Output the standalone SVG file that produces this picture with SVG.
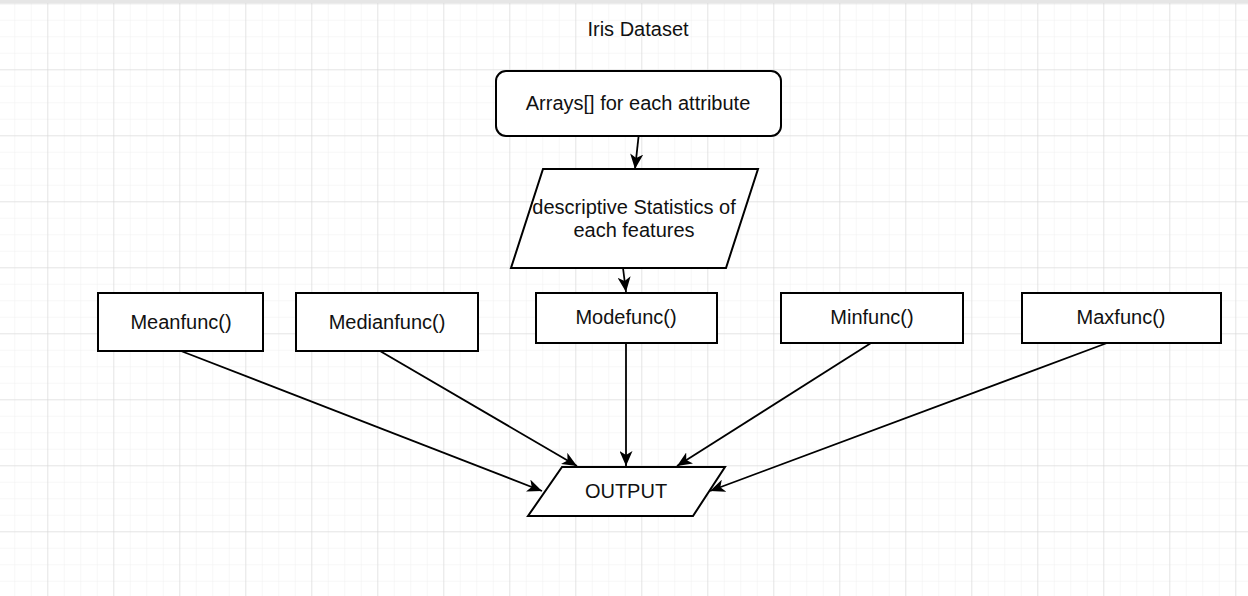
<svg xmlns="http://www.w3.org/2000/svg" width="1248" height="596" viewBox="0 0 1248 596">
<defs>
<pattern id="minor" x="-18.7" y="3.3" width="16.5" height="16.5" patternUnits="userSpaceOnUse">
<path d="M0,0 H16.5 M0,0 V16.5" fill="none" stroke="#efefef" stroke-width="1"/>
</pattern>
<pattern id="major" x="-18.7" y="3.3" width="66" height="66" patternUnits="userSpaceOnUse">
<path d="M0,0 H66 M0,0 V66" fill="none" stroke="#d4d4d4" stroke-width="1"/>
</pattern>
<marker id="arr" markerUnits="userSpaceOnUse" markerWidth="17" markerHeight="13" refX="15" refY="6.5" orient="auto">
<path d="M0,0 L15,6.5 L0,13 L4,6.5 z" fill="#000"/>
</marker>
<style>
.box{fill:#fff;stroke:#000;stroke-width:2}
.t{font-family:"Liberation Sans",Arial,sans-serif;font-size:20px;fill:#111;text-anchor:middle}
.c{fill:none;stroke:#000;stroke-width:1.8;marker-end:url(#arr)}
</style>
</defs>
<rect width="1248" height="596" fill="#fff"/>
<rect width="1248" height="596" fill="url(#minor)"/>
<rect width="1248" height="596" fill="url(#major)"/>
<rect x="0" y="0" width="1248" height="3" fill="#e6e6e6"/>
<g id="title"><text class="t" x="638" y="36">Iris Dataset</text></g>
<g id="arrays"><rect class="box" x="496" y="71" width="285" height="65" rx="10"/><text class="t" x="638" y="110">Arrays[] for each attribute</text></g>
<g id="stats"><polygon class="box" points="543,169 758,169 726,268 511,268"/><text class="t" x="634" y="214">descriptive Statistics of</text><text class="t" x="634" y="237">each features</text></g>
<g id="mean"><rect class="box" x="98" y="293" width="165" height="58"/><text class="t" x="181" y="329">Meanfunc()</text></g>
<g id="median"><rect class="box" x="296" y="293" width="182" height="58"/><text class="t" x="387" y="329">Medianfunc()</text></g>
<g id="mode"><rect class="box" x="536" y="293" width="181" height="50"/><text class="t" x="626" y="324">Modefunc()</text></g>
<g id="min"><rect class="box" x="781" y="293" width="182" height="50"/><text class="t" x="872" y="324">Minfunc()</text></g>
<g id="max"><rect class="box" x="1022" y="293" width="199" height="50"/><text class="t" x="1121" y="324">Maxfunc()</text></g>
<g id="output"><polygon class="box" points="562,467 725,467 693,516 528,516"/><text class="t" x="626" y="498">OUTPUT</text></g>
<g id="connectors">
<line class="c" x1="638.5" y1="137" x2="635" y2="169"/>
<line class="c" x1="623" y1="268" x2="626" y2="292"/>
<line class="c" x1="181" y1="351" x2="542" y2="491"/>
<line class="c" x1="380" y1="351" x2="577" y2="466"/>
<line class="c" x1="626" y1="343" x2="626" y2="466"/>
<line class="c" x1="871" y1="343" x2="677" y2="466"/>
<line class="c" x1="1107" y1="343" x2="710" y2="491"/>
</g>
</svg>
